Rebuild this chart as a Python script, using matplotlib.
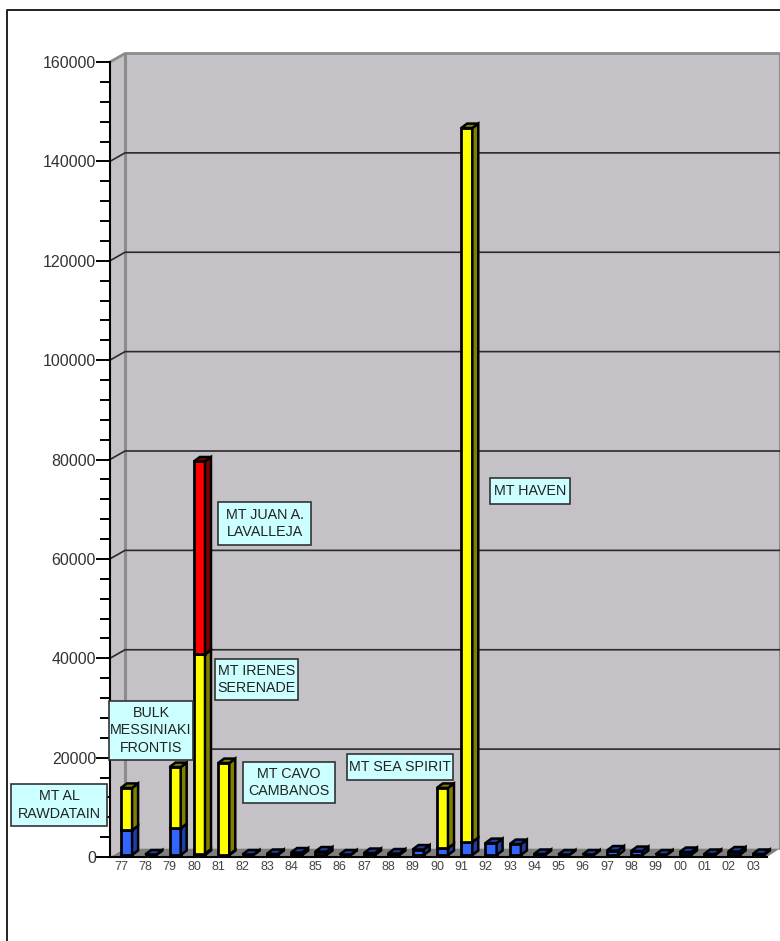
import matplotlib.pyplot as plt
import numpy as np
from matplotlib.patches import Polygon, Rectangle

plt.rcParams['font.family'] = ['Liberation Sans', 'DejaVu Sans']

years = ["77","78","79","80","81","82","83","84","85","86","87","88","89",
         "90","91","92","93","94","95","96","97","98","99","00","01","02","03"]
blue = [5000,100,5400,300,100,100,200,500,700,100,400,300,1100,
        1400,2600,2400,2200,200,100,100,900,800,100,600,200,700,200]
yellow = [8500,0,12300,40100,18400,0,0,0,0,0,0,0,0,
          12100,143700,0,0,0,0,0,0,0,0,0,0,0,0]
red = [0,0,0,38800,0,0,0,0,0,0,0,0,0,
       0,0,0,0,0,0,0,0,0,0,0,0,0,0]

y_ticks = np.arange(0, 160001, 20000)
y_minor = np.arange(0, 160001, 4000)

# name, box left/top/right/bottom in pixels
spill_names = ["MT AL\nRAWDATAIN", "BULK\nMESSINIAKI\nFRONTIS", "MT IRENES\nSERENADE",
               "MT CAVO\nCAMBANOS", "MT SEA SPIRIT", "MT HAVEN", "MT JUAN A.\nLAVALLEJA"]
spill_boxes = [(11,784,107,826), (109,701,193,760), (215,659,298,700),
               (243,762,335,803), (347,754,453,780), (490,478,570,504), (218,502,311,545)]

W, H = 780, 941
fig = plt.figure(figsize=(W/100, H/100), dpi=100)

# axes box runs from the y axis to the right edge, 0 to 160000
ax = fig.add_axes([110/W, 1-857/H, 670/W, 795/H])
x0, step = 126.5, 24.3
ax.set_xlim((110-x0)/step, (780-x0)/step)
ax.set_ylim(0, 160000)
ax.patch.set_visible(False)

per_px = 160000/795
wall_dx = 15/step
wall_dy = 8.5*per_px
xl, xr = ax.get_xlim()
xend = (767-x0)/step

# walls and floor of the 3D box
wall = '#c4c2c6'
ax.add_patch(Polygon([(xl,0),(xl+wall_dx,wall_dy),(xr,wall_dy),(xr,160000+wall_dy),(xl+wall_dx,160000+wall_dy),(xl,160000)],
                     closed=True, fc=wall, ec='none', clip_on=False, zorder=0))
ax.add_patch(Polygon([(xl,0),(xl+wall_dx,wall_dy),(xr,wall_dy),(xend,0)],
                     closed=True, fc='#7f7f7f', ec='none', clip_on=False, zorder=2))
ax.plot([xl+wall_dx]*2, [wall_dy,160000+wall_dy], color='#8c8c8c', lw=2.2, clip_on=False, zorder=1)
ax.plot([xl,xl+wall_dx,xr], [160000,160000+wall_dy,160000+wall_dy], color='#8c8c8c', lw=2, clip_on=False, zorder=1)
ax.plot([xr,xr], [wall_dy,160000+wall_dy], color='#8c8c8c', lw=1.5, clip_on=False, zorder=1)

for v in y_ticks[1:-1]:
    ax.plot([xl,xl+wall_dx,xr], [v,v+wall_dy,v+wall_dy], color='#2a2a2a', lw=1.2, clip_on=False, zorder=1)

x = np.arange(len(years))
blue = np.array(blue)
yellow = np.array(yellow)
red = np.array(red)

# bars stand slightly behind the front edge of the floor
base = 400
bar_w = 0.46
dx = 6/step
dy = 4.5*per_px
stacks = [(blue, base+np.zeros(len(x)), '#3366ff', '#1f3fa8'),
          (yellow, base+blue, '#ffff00', '#808000'),
          (red, base+blue+yellow, '#ff0000', '#800000')]

for vals, bottoms, front, side in stacks:
    shown = vals > 0
    ax.bar(x[shown], vals[shown], bottom=bottoms[shown], width=bar_w, color=front,
           edgecolor='black', linewidth=2, zorder=3)
    for xi, v, b in zip(x[shown], vals[shown], bottoms[shown]):
        r = xi + bar_w/2
        l = xi - bar_w/2
        t = b + v
        ax.add_patch(Polygon([(r,b),(r+dx,b+dy),(r+dx,t+dy),(r,t)], closed=True,
                             fc=side, ec='black', lw=1.8, zorder=3))
        ax.add_patch(Polygon([(l,t),(l+dx,t+dy),(r+dx,t+dy),(r,t)], closed=True,
                             fc=side, ec='black', lw=1.8, zorder=3))

ax.set_xticks(x - 0.22)
ax.set_xticklabels(years, fontsize=9, color='#444444')
ax.tick_params(axis='x', length=0, pad=3)
ax.set_yticks(y_ticks)
ax.set_yticklabels([str(v) for v in y_ticks], fontsize=11.5, color='#333333')
ax.set_yticks(y_minor, minor=True)
ax.tick_params(axis='y', which='major', length=10, width=1.4, pad=0)
ax.tick_params(axis='y', which='minor', length=7, width=1.4)

for s in ['top', 'right']:
    ax.spines[s].set_visible(False)
ax.spines['left'].set_linewidth(1.5)
ax.spines['bottom'].set_linewidth(1.5)
ax.spines['bottom'].set_bounds(xl, xend)

# outer frame, open at the right and bottom
fig.add_artist(plt.Line2D([7/W,7/W,1], [0,1-10/H,1-10/H], color='#222222', lw=1.4))

for name, (bl, bt, br, bb) in zip(spill_names, spill_boxes):
    fig.add_artist(Rectangle((bl/W, 1-bb/H), (br-bl)/W, (bb-bt)/H, transform=fig.transFigure,
                             fc='#ccffff', ec='#333333', lw=1.2, zorder=5))
    fig.text((bl+br)/2/W, 1-(bt+bb)/2/H, name, ha='center', va='center', fontsize=10.3,
             color='#222222', linespacing=1.3, zorder=6)

plt.savefig("out.png", dpi=100)
plt.close()
